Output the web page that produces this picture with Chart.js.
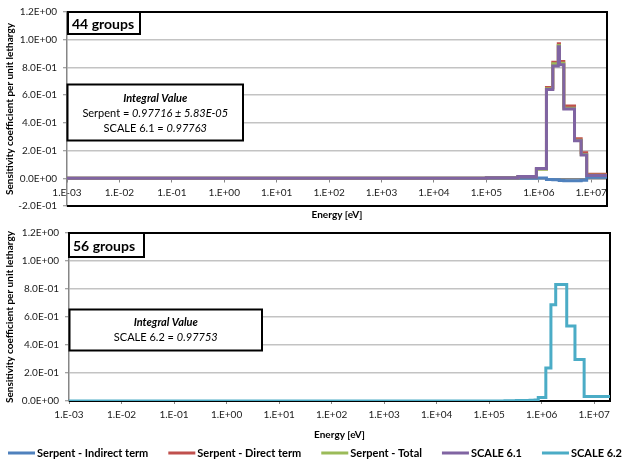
<!DOCTYPE html>
<html>
<head>
<meta charset="utf-8">
<script src="https://cdn.jsdelivr.net/npm/chart.js@4.4.1/dist/chart.umd.min.js"></script>
<style>
  html, body { margin: 0; padding: 0; background: #fff; overflow: hidden; }
  #wrap { position: relative; width: 624px; height: 461px; }
  #topChart { position: absolute; left: 0; top: 0; }
  #bottomChart { position: absolute; left: 0; top: 222px; }
</style>
</head>
<body>
<div id="wrap">
  <canvas id="topChart" width="624" height="222"></canvas>
  <canvas id="bottomChart" width="624" height="239"></canvas>
</div>
<script>
// ---- series ----
const seriesNames  = ['Serpent - Indirect term', 'Serpent - Direct term', 'Serpent - Total', 'SCALE 6.1', 'SCALE 6.2'];
const seriesColors = ['#4F81BD', '#C0504D', '#9BBB59', '#8064A2', '#4BACC6'];

// ---- axis ticks ----
const xTickValues = [1e-3, 1e-2, 1e-1, 1e0, 1e1, 1e2, 1e3, 1e4, 1e5, 1e6, 1e7];
const xTickLabels = ['1.E-03', '1.E-02', '1.E-01', '1.E+00', '1.E+01', '1.E+02', '1.E+03', '1.E+04', '1.E+05', '1.E+06', '1.E+07'];
const yTicksTop    = [-0.2, 0, 0.2, 0.4, 0.6, 0.8, 1.0, 1.2];
const yLabelsTop   = ['-2.0E-01', '0.0E+00', '2.0E-01', '4.0E-01', '6.0E-01', '8.0E-01', '1.0E+00', '1.2E+00'];
const yTicksBottom  = [0, 0.2, 0.4, 0.6, 0.8, 1.0, 1.2];
const yLabelsBottom = ['0.0E+00', '2.0E-01', '4.0E-01', '6.0E-01', '8.0E-01', '1.0E+00', '1.2E+00'];

// ---- 44-group structure (eV, ascending group boundaries) ----
const edges44 = [1e-5, 3e-3, 7.5e-3, 1e-2, 2.53e-2, 3e-2, 4e-2, 5e-2, 7e-2, 1e-1,
  1.5e-1, 2e-1, 2.25e-1, 2.5e-1, 2.75e-1, 3.25e-1, 3.5e-1, 3.75e-1, 4e-1, 6.25e-1,
  1, 1.77, 3, 4.75, 6, 8.1, 10, 30, 100, 550,
  3000, 17000, 25000, 1e5, 4e5, 9e5, 1.4e6, 1.85e6, 2.354e6, 2.479e6,
  3e6, 4.8e6, 6.434e6, 8.187e6, 2e7];

// sensitivity per unit lethargy, one value per 44-group bin (low to high energy)
const serpentIndirect = [0,0,0,0,0,0,0,0,0,0, 0,0,0,0,0,0,0,0,0,0, 0,0,0,0,0,0,0,0,0,0, 0,0,0,
  0.000, 0.001, 0.002, -0.008, -0.010, -0.012, -0.016, -0.018, -0.018, -0.014, 0.008];
const serpentDirect   = [0,0,0,0,0,0,0,0,0,0, 0,0,0,0,0,0,0,0,0,0, 0,0,0,0,0,0,0,0,0,0, 0,0,0,
  0.004, 0.011, 0.068, 0.655, 0.838, 0.970, 0.842, 0.522, 0.286, 0.184, 0.030];
const serpentTotal    = [0,0,0,0,0,0,0,0,0,0, 0,0,0,0,0,0,0,0,0,0, 0,0,0,0,0,0,0,0,0,0, 0,0,0,
  0.004, 0.012, 0.066, 0.646, 0.826, 0.958, 0.830, 0.506, 0.274, 0.172, 0.022];
const scale61         = [0,0,0,0,0,0,0,0,0,0, 0,0,0,0,0,0,0,0,0,0, 0,0,0,0,0,0,0,0,0,0, 0,0,0,
  0.004, 0.012, 0.070, 0.640, 0.810, 0.950, 0.820, 0.500, 0.270, 0.168, 0.020];

// ---- 56-group structure (eV, ascending group boundaries) ----
const edges56 = [1e-5, 4e-3, 1e-2, 2.53e-2, 4e-2, 5e-2, 6e-2, 8e-2, 1e-1, 1.5e-1,
  2e-1, 2.5e-1, 3.25e-1, 3.5e-1, 3.75e-1, 4.5e-1, 6.25e-1, 1.01, 1.08, 1.13,
  5.0, 6.25, 6.5, 6.875, 7.0, 20.5, 21.2, 21.75, 36.0, 37.13,
  65.0, 67.5, 101.2, 105.0, 116.0, 117.5, 187.7, 191.5, 2250, 3740,
  17000, 20000, 50000, 2e5, 2.7e5, 3.3e5, 4.7e5, 6e5, 7.5e5, 8.611e5,
  1.2e6, 1.5e6, 1.85e6, 3e6, 4.304e6, 6.434e6, 2e7];
const scale62 = [0,0,0,0,0,0,0,0,0,0, 0,0,0,0,0,0,0,0,0,0, 0,0,0,0,0,0,0,0,0,0, 0,0,0,0,0,0,0,0,0,0, 0,0,0,
  0.001, 0.002, 0.003, 0.004, 0.005, 0.008, 0.025, 0.235, 0.688, 0.832, 0.535, 0.297, 0.033];

// ---- styling ----
const FONT = "Lato, 'Open Sans', 'DejaVu Sans', sans-serif";
const AXIS_GREY = '#868686';
const GRID_GREY = '#C3C3C3';
const tickFont = { family: FONT, size: 10, lineHeight: 1 };
const titleFont = { family: FONT, size: 10, weight: 'bold', lineHeight: 1.2 };

// histogram bins -> stepped line points (value holds until the next boundary)
function binsToSteps(edges, values) {
  const pts = values.map((v, i) => ({ x: edges[i], y: v }));
  pts.push({ x: edges[edges.length - 1], y: values[values.length - 1] });
  return pts;
}

function stepSeries(idx, edges, values, order) {
  return {
    label: seriesNames[idx],
    data: binsToSteps(edges, values),
    borderColor: seriesColors[idx],
    backgroundColor: seriesColors[idx],
    borderWidth: 3,
    pointRadius: 0,
    stepped: true,
    fill: false,
    borderJoinStyle: 'miter',
    order: order
  };
}

// black frame on the top, right and bottom sides of the plot area
const plotFrame = {
  id: 'plotFrame',
  beforeDatasetsDraw(chart) {
    const { ctx, chartArea: a } = chart;
    ctx.save();
    ctx.strokeStyle = '#000';
    ctx.lineWidth = 2;
    ctx.beginPath();
    ctx.moveTo(a.left, a.top);
    ctx.lineTo(a.right, a.top);
    ctx.lineTo(a.right, a.bottom);
    ctx.lineTo(a.left, a.bottom);
    ctx.stroke();
    ctx.restore();
  }
};

function framedBox(ctx, x, y, w, h) {
  ctx.fillStyle = '#fff';
  ctx.fillRect(x, y, w, h);
  ctx.strokeStyle = '#000';
  ctx.lineWidth = 2;
  ctx.strokeRect(x, y, w, h);
}

// group-structure tag and integral-value box, placed relative to the plot area
const panelNotes = {
  id: 'panelNotes',
  afterDatasetsDraw(chart, args, opts) {
    const { ctx, chartArea: a } = chart;
    ctx.save();
    const t = opts.tag;
    framedBox(ctx, a.left + t.x, a.top + t.y, t.w, t.h);
    ctx.fillStyle = '#000';
    ctx.textBaseline = 'middle';
    ctx.textAlign = 'left';
    ctx.font = `bold 14px ${FONT}`;
    ctx.fillText(t.text, a.left + t.x + 4, a.top + t.y + t.h / 2 + 1);

    const b = opts.box;
    const bx = a.left + b.x, by = a.top + b.y;
    framedBox(ctx, bx, by, b.w, b.h);
    ctx.fillStyle = '#000';
    b.rows.forEach(row => {
      const widths = row.runs.map(r => { ctx.font = `${r[1]} 11px ${FONT}`; return ctx.measureText(r[0]).width; });
      const total = widths.reduce((s, w) => s + w, 0);
      let x = bx + b.w / 2 - total / 2;
      row.runs.forEach((r, i) => {
        ctx.font = `${r[1]} 11px ${FONT}`;
        ctx.fillText(r[0], x, by + row.y);
        x += widths[i];
      });
    });
    ctx.restore();
  }
};

// one-row legend spread across the bottom of the figure
const lineLegend = {
  id: 'lineLegend',
  afterDraw(chart, args, opts) {
    const { ctx } = chart;
    ctx.save();
    ctx.font = `bold 11px ${FONT}`;
    const sw = opts.swatch, gapText = 2;
    const widths = seriesNames.map(n => sw + gapText + ctx.measureText(n).width);
    const total = widths.reduce((s, w) => s + w, 0);
    const gap = (opts.right - opts.left - total) / (widths.length - 1);
    const y = chart.height - opts.fromBottom;
    let x = opts.left;
    ctx.textBaseline = 'middle';
    ctx.textAlign = 'left';
    seriesNames.forEach((name, i) => {
      ctx.fillStyle = seriesColors[i];
      ctx.fillRect(x, y - 1.5, sw, 3);
      ctx.fillStyle = '#000';
      ctx.fillText(name, x + sw + gapText, y + 0.5);
      x += widths[i] + gap;
    });
    ctx.restore();
  }
};

function yAxis(ticks, labels, min, width) {
  return {
    min: min, max: 1.2,
    afterBuildTicks: s => { s.ticks = ticks.map(v => ({ value: v })); },
    afterFit: s => { s.width = width; },
    ticks: { callback: (v, i) => labels[i], padding: 6, font: tickFont, color: '#1a1a1a' },
    grid: { color: GRID_GREY, lineWidth: 1.5, tickLength: 4, tickColor: AXIS_GREY, tickWidth: 1 },
    border: { color: AXIS_GREY, width: 1.5 },
    title: { display: true, text: 'Sensitivity coefficient per unit lethargy', font: titleFont, color: '#000', padding: { top: 4, bottom: 0 } }
  };
}

function xAxis(position, extra) {
  return Object.assign({
    type: 'logarithmic',
    position: position,
    min: 1e-3, max: 2e7,
    afterBuildTicks: s => { s.ticks = xTickValues.map(v => ({ value: v })); },
    ticks: { callback: (v, i) => xTickLabels[i], autoSkip: false, maxRotation: 0, padding: 6, font: tickFont, color: '#1a1a1a' },
    grid: { drawOnChartArea: false, drawTicks: true, tickLength: 3, color: AXIS_GREY, lineWidth: 1 },
    border: { color: AXIS_GREY, width: 1.5 }
  }, extra || {});
}

function energyTitle(padTop, padBottom) {
  return { display: true, position: 'bottom', fullSize: false, text: 'Energy [eV]', font: titleFont, color: '#000', padding: { top: padTop, bottom: padBottom } };
}

// ---- 44-group panel ----
new Chart(document.getElementById('topChart'), {
  type: 'line',
  data: {
    datasets: [
      stepSeries(0, edges44, serpentIndirect, 4),
      stepSeries(1, edges44, serpentDirect, 3),
      stepSeries(2, edges44, serpentTotal, 2),
      stepSeries(3, edges44, scale61, 1)
    ]
  },
  options: {
    responsive: false, animation: false, events: [],
    layout: { padding: { left: 0, top: 12, right: 17, bottom: 0 } },
    scales: {
      x: xAxis({ y: 0 }),
      y: yAxis(yTicksTop, yLabelsTop, -0.2, 67)
    },
    plugins: {
      legend: { display: false },
      tooltip: { enabled: false },
      title: energyTitle(3, 1),
      panelNotes: {
        tag: { text: '44 groups', x: 1, y: 0, w: 72, h: 22 },
        box: { x: 0.5, y: 72.5, w: 175.5, h: 56, rows: [
          { y: 14, runs: [['Integral Value', 'bold italic']] },
          { y: 29, runs: [['Serpent = ', ''], ['0.97716 \u00b1 5.83E-05', 'italic']] },
          { y: 44, runs: [['SCALE 6.1 = ', ''], ['0.97763', 'italic']] }
        ] }
      }
    }
  },
  plugins: [plotFrame, panelNotes]
});

// ---- 56-group panel ----
new Chart(document.getElementById('bottomChart'), {
  type: 'line',
  data: {
    datasets: [ stepSeries(4, edges56, scale62, 0) ]
  },
  options: {
    responsive: false, animation: false, events: [],
    layout: { padding: { left: 0, top: 8, right: 14, bottom: 20 } },
    scales: {
      x: xAxis('bottom', { afterFit: s => { s.height = 20; } }),
      y: yAxis(yTicksBottom, yLabelsBottom, 0, 69)
    },
    plugins: {
      legend: { display: false },
      tooltip: { enabled: false },
      title: energyTitle(8, 0),
      panelNotes: {
        tag: { text: '56 groups', x: 0, y: 0, w: 75, h: 24 },
        box: { x: 0.5, y: 76.5, w: 192.5, h: 41, rows: [
          { y: 13, runs: [['Integral Value', 'bold italic']] },
          { y: 28, runs: [['SCALE 6.2 = ', ''], ['0.97753', 'italic']] }
        ] }
      },
      lineLegend: { swatch: 27, left: 8, right: 622, fromBottom: 8 }
    }
  },
  plugins: [plotFrame, panelNotes, lineLegend]
});
</script>
</body>
</html>
